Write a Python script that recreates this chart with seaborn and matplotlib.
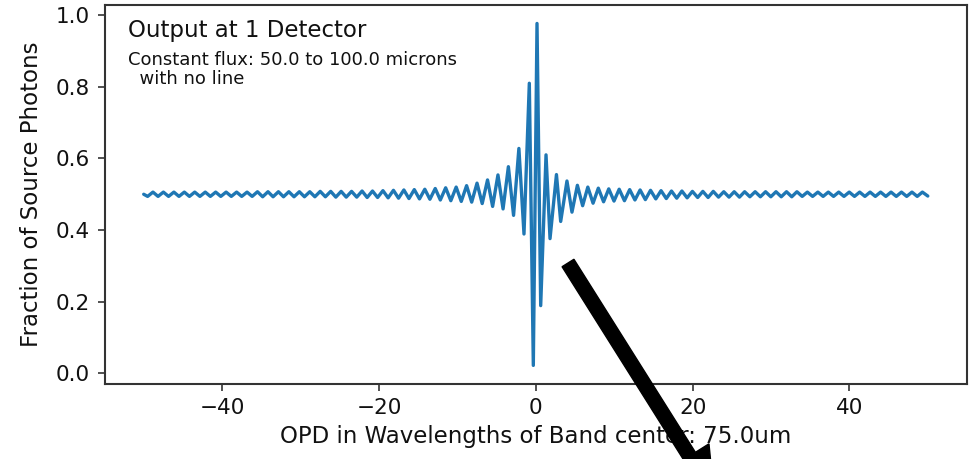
import numpy as np
import matplotlib
matplotlib.use("Agg")
import matplotlib.pyplot as plt
import seaborn as sns
import pandas as pd
from matplotlib.patches import FancyArrow
from matplotlib.transforms import IdentityTransform

# ---- data (extrema of the interferogram) ----
opd_left = [-50.00, -49.50, -48.82, -48.17, -47.49, -46.83, -46.15, -45.50, -44.82, -44.17,
            -43.49, -42.83, -42.15, -41.50, -40.82, -40.17, -39.49, -38.83, -38.15, -37.50,
            -36.82, -36.17, -35.49, -34.83, -34.15, -33.50, -32.82, -32.17, -31.49, -30.83,
            -30.15, -29.50, -28.82, -28.17, -27.49, -26.83, -26.15, -25.50, -24.82, -24.17,
            -23.49, -22.83, -22.15, -21.50, -20.82, -20.17, -19.49, -18.83, -18.15, -17.50,
            -16.82, -16.17, -15.49, -14.83, -14.15, -13.50, -12.82, -12.17, -11.49, -10.83,
            -10.15, -9.50, -8.82, -8.17, -7.49, -6.83, -6.15, -5.50, -4.82, -4.17,
            -3.49, -2.83, -2.15, -1.50]
frac_left = [0.500, 0.494, 0.506, 0.494, 0.506, 0.494, 0.506, 0.494, 0.506, 0.494,
             0.506, 0.494, 0.506, 0.494, 0.506, 0.494, 0.506, 0.494, 0.506, 0.494,
             0.506, 0.494, 0.507, 0.493, 0.507, 0.493, 0.507, 0.493, 0.507, 0.493,
             0.507, 0.493, 0.507, 0.493, 0.508, 0.493, 0.508, 0.492, 0.508, 0.492,
             0.508, 0.492, 0.509, 0.491, 0.509, 0.491, 0.510, 0.490, 0.511, 0.489,
             0.512, 0.488, 0.513, 0.487, 0.514, 0.486, 0.516, 0.484, 0.518, 0.482,
             0.520, 0.480, 0.524, 0.478, 0.531, 0.474, 0.540, 0.466, 0.554, 0.459,
             0.577, 0.441, 0.628, 0.389]

opd_center = [-0.82, -0.31, 0.16, 0.63, 1.31, 1.82, 2.64, 3.18, 3.98, 4.62]
frac_center = [0.810, 0.022, 0.977, 0.189, 0.610, 0.376, 0.555, 0.424, 0.537, 0.450]

opd_right = [5.31, 5.98, 6.64, 7.31, 7.98, 8.65, 9.31, 9.98, 10.64, 11.31,
             11.98, 12.65, 13.31, 13.98, 14.64, 15.31, 15.98, 16.65, 17.31, 17.98,
             18.64, 19.31, 19.98, 20.65, 21.31, 21.98, 22.64, 23.31, 23.98, 24.65,
             25.31, 25.98, 26.64, 27.31, 27.98, 28.65, 29.31, 29.98, 30.64, 31.31,
             31.98, 32.65, 33.31, 33.98, 34.64, 35.31, 35.98, 36.65, 37.31, 37.98,
             38.64, 39.31, 39.98, 40.65, 41.31, 41.98, 42.64, 43.31, 43.98, 44.65,
             45.31, 45.98, 46.64, 47.31, 47.98, 48.65, 49.31, 50.00]
frac_right = [0.525, 0.468, 0.520, 0.475, 0.517, 0.479, 0.515, 0.481, 0.514, 0.482,
              0.513, 0.484, 0.512, 0.485, 0.511, 0.487, 0.510, 0.488, 0.509, 0.489,
              0.509, 0.490, 0.508, 0.491, 0.508, 0.491, 0.508, 0.492, 0.507, 0.492,
              0.507, 0.492, 0.507, 0.493, 0.507, 0.493, 0.507, 0.493, 0.507, 0.493,
              0.507, 0.493, 0.507, 0.494, 0.506, 0.494, 0.506, 0.494, 0.506, 0.494,
              0.506, 0.494, 0.506, 0.494, 0.506, 0.494, 0.506, 0.494, 0.506, 0.494,
              0.506, 0.494, 0.506, 0.494, 0.506, 0.494, 0.506, 0.495]

x_ticks = [-40, -20, 0, 20, 40]
y_ticks = [0.0, 0.2, 0.4, 0.6, 0.8, 1.0]
title_text = "Output at 1 Detector"
sub_text = "Constant flux: 50.0 to 100.0 microns\n  with no line"
x_label = "OPD in Wavelengths of Band center: 75.0um"
y_label = "Fraction of Source Photons"

df = pd.DataFrame({
    "opd": opd_left + opd_center + opd_right,
    "frac": frac_left + frac_center + frac_right,
})

sns.set_style("ticks")
plt.rcParams["font.family"] = ["DejaVu Sans"]

fig = plt.figure(figsize=(9.74, 4.59), dpi=100)
ax = fig.add_axes([104.5 / 974, 1 - 384 / 459, (967 - 104.5) / 974, (384 - 4.5) / 459])

sns.lineplot(data=df, x="opd", y="frac", ax=ax, color="#1f77b4", linewidth=2.4,
             sort=False, estimator=None)

ax.set_xlim(-55, 55)
ax.set_ylim(-0.03, 1.03)
ax.set_xticks(x_ticks)
ax.set_yticks(y_ticks)
ax.set_xticklabels([f"{t}".replace("-", "\u2212") for t in x_ticks])
ax.set_yticklabels([f"{t:.1f}" for t in y_ticks])
ax.tick_params(labelsize=15.5, length=5, width=1.2, color="#333333",
               labelcolor="#111111", direction="out")
ax.tick_params(axis="y", pad=5.5)
ax.tick_params(axis="x", pad=5)
ax.set_xlabel(x_label, fontsize=16.5, labelpad=5, color="#111111")
ax.set_ylabel(y_label, fontsize=16.5, labelpad=9, color="#111111")
for s in ax.spines.values():
    s.set_color("#333333")
    s.set_linewidth(1.5)

ax.text(0.027, 0.962, title_text, transform=ax.transAxes, fontsize=16.5,
        va="top", ha="left", color="#111111")
ax.text(0.027, 0.878, sub_text, transform=ax.transAxes, fontsize=13,
        va="top", ha="left", color="#111111", linespacing=1.12)

arrow = FancyArrow(568, 459 - 263, 146, -232, width=14, head_width=46,
                   head_length=46, length_includes_head=True, color="black",
                   transform=IdentityTransform(), clip_on=False)
fig.add_artist(arrow)

fig.savefig("out.png", dpi=100)
